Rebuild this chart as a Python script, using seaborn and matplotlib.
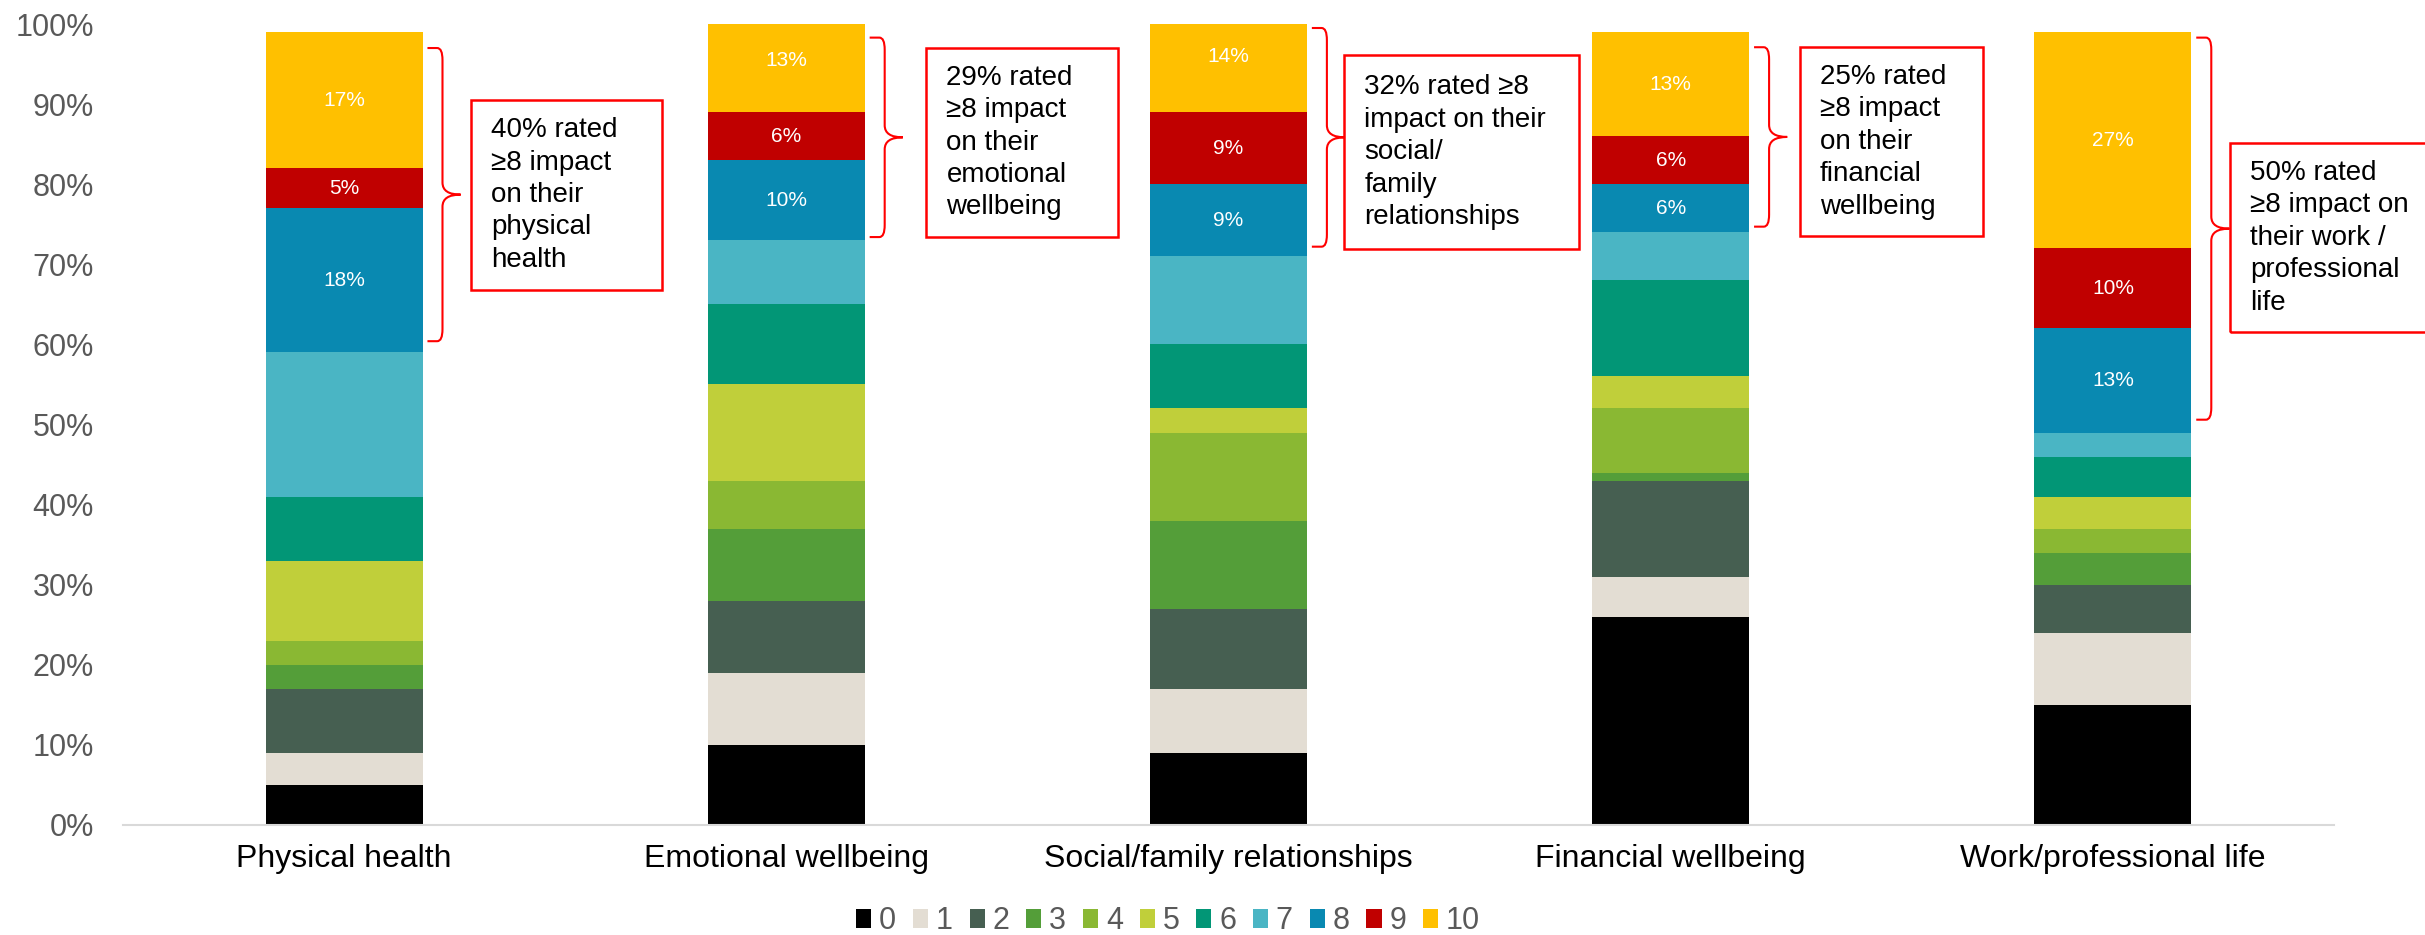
import matplotlib
matplotlib.use("Agg")
import matplotlib.pyplot as plt
import numpy as np
import pandas as pd
import seaborn as sns
from matplotlib.patches import Rectangle, PathPatch
from matplotlib.path import Path

# Share of respondents (%) at each impact score 0..10, per life area
categories = ["Physical health", "Emotional wellbeing", "Social/family relationships",
              "Financial wellbeing", "Work/professional life"]
scores = ["0", "1", "2", "3", "4", "5", "6", "7", "8", "9", "10"]
physical_health = [5, 4, 8, 3, 3, 10, 8, 18, 18, 5, 17]
emotional_wellbeing = [10, 9, 9, 9, 6, 12, 10, 8, 10, 6, 13]
social_family = [9, 8, 10, 11, 11, 3, 8, 11, 9, 9, 14]
financial_wellbeing = [26, 5, 12, 1, 8, 4, 12, 6, 6, 6, 13]
work_professional = [15, 9, 6, 4, 3, 4, 5, 3, 13, 10, 27]

score_colors = ["#000000", "#E3DDD3", "#465F51", "#549E39", "#8AB833", "#C0CF3A",
                "#029676", "#4AB5C4", "#0989B1", "#C00000", "#FFC000"]
labelled_scores = ["8", "9", "10"]

callout_texts = [
    "40% rated\n≥8 impact\non their\nphysical\nhealth",
    "29% rated\n≥8 impact\non their\nemotional\nwellbeing",
    "32% rated ≥8\nimpact on their\nsocial/\nfamily\nrelationships",
    "25% rated\n≥8 impact\non their\nfinancial\nwellbeing",
    "50% rated\n≥8 impact on\ntheir work /\nprofessional\nlife",
]
# callout box extents: (left, right) in category units, (bottom, top) in %
callout_x = [(0.287, 0.719), (1.317, 1.751), (2.262, 2.792), (3.292, 3.706), (4.265, 4.76)]
callout_y = [(66.8, 90.5), (73.4, 97.0), (71.9, 96.1), (73.5, 97.1), (61.5, 85.1)]
# brace extents in %
brace_y = [(60.4, 97.0), (73.4, 98.3), (72.2, 99.5), (74.7, 97.1), (50.6, 98.3)]

# long-form table with cumulative tops for the stacked bars
rows = []
for cat, vals in zip(categories, [physical_health, emotional_wellbeing, social_family,
                                  financial_wellbeing, work_professional]):
    cum = np.cumsum(vals)
    for s, v, c in zip(scores, vals, cum):
        rows.append({"category": cat, "score": s, "share": v, "top": c, "bottom": c - v})
df = pd.DataFrame(rows)

sns.set_style("white")
plt.rcParams["font.family"] = ["Liberation Sans", "DejaVu Sans"]

fig = plt.figure(figsize=(24.25, 9.35), dpi=100)
W, H = 2425, 935
ax = fig.add_axes([123 / W, 1 - 825 / H, (2334 - 123) / W, (825 - 24) / H])

bar_width = 0.355
# draw from the highest score down, each bar spanning 0..cumulative top
for s, col in zip(reversed(scores), reversed(score_colors)):
    sub = df[df["score"] == s]
    sns.barplot(data=sub, x="category", y="top", order=categories, color=col,
                saturation=1, width=bar_width, errorbar=None, linewidth=0, ax=ax)

# value labels for the top three scores
for i, cat in enumerate(categories):
    sub = df[df["category"] == cat]
    for s in labelled_scores:
        r = sub[sub["score"] == s].iloc[0]
        ax.text(i, r["bottom"] + r["share"] / 2, f"{int(r['share'])}%", ha="center",
                va="center", color="white", fontsize=15)

ax.set_xlim(-0.5, 4.5)
ax.set_ylim(0, 100)
ax.set_yticks(np.arange(0, 101, 10))
ax.set_yticklabels([f"{t}%" for t in range(0, 101, 10)])
ax.set_xlabel("")
ax.set_ylabel("")
for side in ["left", "top", "right"]:
    ax.spines[side].set_visible(False)
ax.spines["bottom"].set_color("#D9D9D9")
ax.spines["bottom"].set_linewidth(1.5)
ax.tick_params(axis="y", length=0, pad=21, labelsize=22, labelcolor="#595959")
ax.tick_params(axis="x", which="major", length=0, pad=14, labelsize=23, labelcolor="black")
ax.set_xticks(np.arange(-0.5, 4.6, 1), minor=True)
ax.tick_params(axis="x", which="minor", length=8, width=1.5, color="#D9D9D9")

# callout braces and boxes
red = "#FF0000"
for i in range(len(categories)):
    edge = i + bar_width / 2
    xs, xv, xt = edge + 0.011, edge + 0.045, edge + 0.086
    yb, yt = brace_y[i]
    ym = (yb + yt) / 2
    rx, ry = 0.012, 1.5
    verts = [(xs, yt), (xv - rx, yt), (xv, yt), (xv, yt - ry),
             (xv, ym + ry), (xv, ym), (xt, ym),
             (xv, ym), (xv, ym - ry),
             (xv, yb + ry), (xv, yb), (xv - rx, yb), (xs, yb)]
    codes = [Path.MOVETO, Path.LINETO, Path.CURVE3, Path.CURVE3,
             Path.LINETO, Path.CURVE3, Path.CURVE3,
             Path.CURVE3, Path.CURVE3,
             Path.LINETO, Path.CURVE3, Path.CURVE3, Path.LINETO]
    ax.add_patch(PathPatch(Path(verts, codes), fill=False, edgecolor=red, lw=1.5,
                           clip_on=False))

    x0, x1 = callout_x[i]
    y0, y1 = callout_y[i]
    ax.add_patch(Rectangle((x0, y0), x1 - x0, y1 - y0, fill=False, edgecolor=red,
                           lw=1.8, clip_on=False))
    ax.text(x0 + 0.045, (y0 + y1) / 2, callout_texts[i], ha="left", va="center",
            fontsize=20, linespacing=1.32, color="black", clip_on=False)

handles = [Rectangle((0, 0), 1, 1, facecolor=c, edgecolor="none") for c in score_colors]
fig.legend(handles, scores, ncol=11, loc="center", bbox_to_anchor=(1168 / W, 14 / H),
           frameon=False, handlelength=0.5, handleheight=0.6, handletextpad=0.25,
           columnspacing=0.55, labelcolor="#595959",
           prop={"family": ["Liberation Sans", "DejaVu Sans"], "size": 22})

fig.savefig("out.png", dpi=100, facecolor="white")
